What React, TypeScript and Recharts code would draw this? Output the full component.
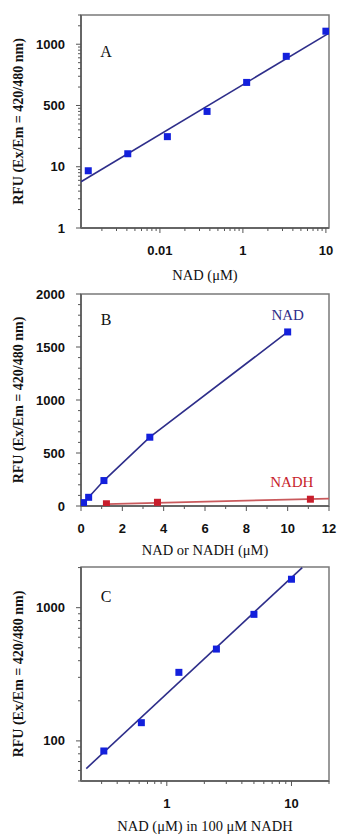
import React from 'react';
import {
  ScatterChart,
  Scatter,
  XAxis,
  YAxis,
  ReferenceArea,
  ReferenceDot,
} from 'recharts';

// Panel A: NAD standard curve, log/log
const nadConcA = [0.0137, 0.041, 0.123, 0.37, 1.11, 3.33, 10];
const rfuA = [8.6, 16.3, 31, 80, 238, 635, 1633];
const fitXA = [0.0112, 10.9];
const fitYA = [5.7, 1520];
const xMajorA = [0.1, 1, 10];
const xLabelsA = ['0.01', '1', '10'];
const yMajorA = [1, 10, 100, 1000];
const yLabelsA = ['1', '10', '500', '1000'];

// Panel B: NAD vs NADH, linear
const nadConcB = [0.123, 0.37, 1.11, 3.33, 10];
const rfuNadB = [32, 82, 240, 649, 1642];
const nadhConcB = [1.23, 3.7, 11.1];
const rfuNadhB = [21, 35, 64];
const nadhFitX = [1.23, 12];
const nadhFitY = [17, 70];
const xMajorB = [0, 2, 4, 6, 8, 10, 12];
const xLabelsB = ['0', '2', '4', '6', '8', '10', '12'];
const yMajorB = [0, 500, 1000, 1500, 2000];
const yLabelsB = ['0', '500', '1000', '1500', '2000'];

// Panel C: NAD spiked into 100 µM NADH, log/log
const nadConcC = [0.3125, 0.625, 1.25, 2.5, 5, 10];
const rfuC = [84, 137, 327, 489, 891, 1635];
const fitXC = [0.226, 12.2];
const fitYC = [62, 2000];
const xMajorC = [1, 10];
const xLabelsC = ['1', '10'];
const yMajorC = [100, 1000];
const yLabelsC = ['100', '1000'];

const yTitle = 'RFU (Ex/Em = 420/480 nm)';

const BLUE = '#1320dc';
const NAVY = '#2e2e8a';
const RED = '#c81e2c';
const RED_LINE = '#c9595c';
const FRAME = '#7a7a7a';

const serif = '"Liberation Serif", "Times New Roman", serif';
const sans = '"Liberation Sans", Arial, sans-serif';

const zip = (xs: number[], ys: number[]) => xs.map((x, i) => ({ x, y: ys[i] }));

// all 1..9 x 10^n ticks inside [lo, hi]
const logTicks = (lo: number, hi: number) => {
  const out: number[] = [];
  for (let d = Math.floor(Math.log10(lo)); d <= Math.ceil(Math.log10(hi)); d++) {
    for (let m = 1; m < 10; m++) {
      const v = +(m * Math.pow(10, d)).toPrecision(6);
      if (v >= lo && v <= hi) out.push(v);
    }
  }
  return out;
};
const linTicks = (lo: number, hi: number, step: number) => {
  const out: number[] = [];
  for (let v = lo; v <= hi + 1e-9; v += step) out.push(v);
  return out;
};

function makeXTick(majors: number[], labels: string[]) {
  return (p: any) => {
    const i = majors.indexOf(p.payload.value);
    return (
      <g>
        <line x1={p.x} x2={p.x} y1={p.y} y2={p.y + (i >= 0 ? 5 : 3)} stroke="#555" strokeWidth={1} />
        {i >= 0 && (
          <text x={p.x} y={p.y + 22} textAnchor="middle" dominantBaseline="central"
            fontFamily={sans} fontWeight={700} fontSize={13} fill="#111">
            {labels[i]}
          </text>
        )}
      </g>
    );
  };
}

function makeYTick(majors: number[], labels: string[]) {
  return (p: any) => {
    const i = majors.indexOf(p.payload.value);
    return (
      <g>
        <line x1={p.x} x2={p.x - (i >= 0 ? 5 : 3)} y1={p.y} y2={p.y} stroke="#555" strokeWidth={1} />
        {i >= 0 && (
          <text x={p.x - 16} y={p.y} textAnchor="end" dominantBaseline="central"
            fontFamily={sans} fontWeight={700} fontSize={13} fill="#111">
            {labels[i]}
          </text>
        )}
      </g>
    );
  };
}

const xTitle = (text: string, gap: number) => (props: any) => {
  const vb = props.viewBox;
  return (
    <text x={vb.x + vb.width / 2} y={vb.y + gap} textAnchor="middle" dominantBaseline="central"
      fontFamily={serif} fontSize={14.5} fill="#111">
      {text}
    </text>
  );
};

const yTitleLabel = (props: any) => {
  const vb = props.viewBox;
  const cx = vb.x + 18;
  const cy = vb.y + vb.height / 2;
  return (
    <text x={cx} y={cy} transform={`rotate(-90, ${cx}, ${cy})`} textAnchor="middle"
      dominantBaseline="central" fontFamily={serif} fontWeight={700} fontSize={14} fill="#111">
      {yTitle}
    </text>
  );
};

const letterLabel = (letter: string, dy: number) => (props: any) => {
  const vb = props.viewBox;
  return (
    <text x={vb.x + 25} y={vb.y + dy} textAnchor="middle" dominantBaseline="central"
      fontFamily={serif} fontSize={16} fill="#111">
      {letter}
    </text>
  );
};

const square = (color: string) => (p: any) => (
  <rect x={p.cx - 3.5} y={p.cy - 3.5} width={7} height={7} fill={color} />
);
const noDot = () => <g />;

const axisLine = { stroke: '#666', strokeWidth: 2 };

const W = 351;
const margin = (top: number) => ({ top, right: 22, bottom: 0, left: 0 });

function PanelA() {
  const xd = [0.0112, 10.9];
  const yd = [1, 3000];
  return (
    <ScatterChart width={W} height={285} margin={margin(15)}>
      <XAxis type="number" dataKey="x" scale="log" domain={xd} allowDataOverflow
        ticks={logTicks(xd[0], xd[1])} interval={0} tickSize={0} tickMargin={0}
        tickLine={false} axisLine={axisLine} tick={makeXTick(xMajorA, xLabelsA)} height={57}
        label={xTitle('NAD (μM)', 47)} />
      <YAxis type="number" dataKey="y" scale="log" domain={yd} allowDataOverflow
        ticks={logTicks(yd[0], yd[1])} interval={0} tickSize={0} tickMargin={0}
        tickLine={false} axisLine={axisLine} tick={makeYTick(yMajorA, yLabelsA)} width={81}
        label={yTitleLabel} />
      <ReferenceArea x1={xd[0]} x2={xd[1]} y1={yd[0]} y2={yd[1]} fill="none" stroke={FRAME}
        strokeWidth={1.5} ifOverflow="visible" label={letterLabel('A', 36)} />
      <Scatter data={zip(fitXA, fitYA)} line={{ stroke: NAVY, strokeWidth: 1.6 }} shape={noDot}
        isAnimationActive={false} />
      <Scatter data={zip(nadConcA, rfuA)} shape={square(BLUE)} isAnimationActive={false} />
    </ScatterChart>
  );
}

function PanelB() {
  const xd = [0, 12];
  const yd = [0, 2000];
  return (
    <ScatterChart width={W} height={275} margin={margin(9)}>
      <XAxis type="number" dataKey="x" domain={xd} allowDataOverflow
        ticks={linTicks(0, 12, 1)} interval={0} tickSize={0} tickMargin={0}
        tickLine={false} axisLine={axisLine} tick={makeXTick(xMajorB, xLabelsB)} height={54}
        label={xTitle('NAD or NADH (μM)', 44)} />
      <YAxis type="number" dataKey="y" domain={yd} allowDataOverflow
        ticks={linTicks(0, 2000, 100)} interval={0} tickSize={0} tickMargin={0}
        tickLine={false} axisLine={axisLine} tick={makeYTick(yMajorB, yLabelsB)} width={81}
        label={yTitleLabel} />
      <ReferenceArea x1={xd[0]} x2={xd[1]} y1={yd[0]} y2={yd[1]} fill="none" stroke={FRAME}
        strokeWidth={1.5} ifOverflow="visible" label={letterLabel('B', 25)} />
      <Scatter data={zip(nadhFitX, nadhFitY)} line={{ stroke: RED_LINE, strokeWidth: 1.8 }}
        shape={noDot} isAnimationActive={false} />
      <Scatter data={zip(nadhConcB, rfuNadhB)} shape={square(RED)} isAnimationActive={false} />
      <Scatter data={zip(nadConcB, rfuNadB)} line={{ stroke: NAVY, strokeWidth: 1.6 }}
        shape={square(BLUE)} isAnimationActive={false} />
      <ReferenceDot x={10} y={1802} r={0} fill="none" stroke="none"
        label={{ value: 'NAD', position: 'center', fill: NAVY, fontSize: 15, fontFamily: serif }} />
      <ReferenceDot x={10.2} y={226} r={0} fill="none" stroke="none"
        label={{ value: 'NADH', position: 'center', fill: RED, fontSize: 15, fontFamily: serif }} />
    </ScatterChart>
  );
}

function PanelC() {
  const xd = [0.205, 20];
  const yd = [50, 2020];
  return (
    <ScatterChart width={W} height={279} margin={margin(7)}>
      <XAxis type="number" dataKey="x" scale="log" domain={xd} allowDataOverflow
        ticks={logTicks(xd[0], xd[1])} interval={0} tickSize={0} tickMargin={0}
        tickLine={false} axisLine={axisLine} tick={makeXTick(xMajorC, xLabelsC)} height={58}
        label={xTitle('NAD (μM) in 100 μM NADH', 45)} />
      <YAxis type="number" dataKey="y" scale="log" domain={yd} allowDataOverflow
        ticks={logTicks(yd[0], yd[1])} interval={0} tickSize={0} tickMargin={0}
        tickLine={false} axisLine={axisLine} tick={makeYTick(yMajorC, yLabelsC)} width={81}
        label={yTitleLabel} />
      <ReferenceArea x1={xd[0]} x2={xd[1]} y1={yd[0]} y2={yd[1]} fill="none" stroke={FRAME}
        strokeWidth={1.5} ifOverflow="visible" label={letterLabel('C', 29)} />
      <Scatter data={zip(fitXC, fitYC)} line={{ stroke: NAVY, strokeWidth: 1.6 }} shape={noDot}
        isAnimationActive={false} />
      <Scatter data={zip(nadConcC, rfuC)} shape={square(BLUE)} isAnimationActive={false} />
    </ScatterChart>
  );
}

export default function App() {
  return (
    <div style={{ position: 'absolute', left: 0, top: 0, width: W, height: 839, background: '#fff' }}>
      <div style={{ position: 'absolute', left: 0, top: 0 }}>
        <PanelA />
      </div>
      <div style={{ position: 'absolute', left: 0, top: 285 }}>
        <PanelB />
      </div>
      <div style={{ position: 'absolute', left: 0, top: 560 }}>
        <PanelC />
      </div>
    </div>
  );
}
